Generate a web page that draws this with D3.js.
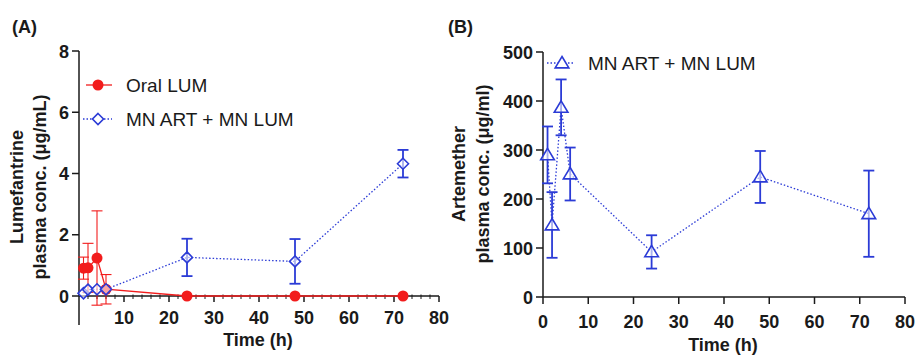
<!DOCTYPE html>
<html><head><meta charset="utf-8">
<script src="https://cdn.jsdelivr.net/npm/d3@7"></script>
<style>
body{margin:0;background:#fff;}
svg{font-family:"Liberation Sans",Arial,sans-serif;}
</style></head>
<body>
<svg id="c" width="915" height="357"></svg>
<script>
// ---- Data ----
const timesA = [1, 2, 4, 6, 24, 48, 72];
const oralLumMean = [0.91, 0.92, 1.24, 0.22, 0, 0, 0];
const oralLumSD   = [0.36, 0.80, 1.54, 0.48, 0, 0, 0];
const mnLumMean   = [0.09, 0.21, 0.22, 0.22, 1.26, 1.13, 4.32];
const mnLumSD     = [0.00, 0.00, 0.00, 0.00, 0.61, 0.73, 0.45];
const timesB = [1, 2, 4, 6, 24, 48, 72];
const mnArtMean = [290, 147, 387, 251, 92, 245, 170];
const mnArtSD   = [58, 67, 57, 54, 34, 53, 88];
const xTicksA = [10, 20, 30, 40, 50, 60, 70, 80];
const xTicksB = [0, 10, 20, 30, 40, 50, 60, 70, 80];
const yTicksA = [0, 2, 4, 6, 8];
const yTicksB = [0, 100, 200, 300, 400, 500];

const RED = "#f21c1c", BLUE = "#2b3bd6", AX = "#1a1a1a";
const TICKFS = 18;
const svg = d3.select("#c");

function drawErr(g, x, y, times, means, sds, color, sw, capW) {
  times.forEach((t, i) => {
    if (!sds[i]) return;
    const cx = x(t), top = y(means[i] + sds[i]), bot = y(means[i] - sds[i]);
    g.append("line").attr("x1", cx).attr("x2", cx).attr("y1", top).attr("y2", bot)
      .attr("stroke", color).attr("stroke-width", sw);
    [top, bot].forEach(yy => g.append("line").attr("x1", cx - capW / 2).attr("x2", cx + capW / 2)
      .attr("y1", yy).attr("y2", yy).attr("stroke", color).attr("stroke-width", sw));
  });
}

// ---------- Panel A ----------
const xA = d3.scaleLinear().domain([0, 80]).range([79, 439]);
const yA = d3.scaleLinear().domain([0, 8]).range([296, 51]);
const gA = svg.append("g");

gA.append("line").attr("x1", xA(0)).attr("x2", xA(0)).attr("y1", yA(8)).attr("y2", yA(-0.95))
  .attr("stroke", AX).attr("stroke-width", 1.5);
yTicksA.forEach(t => {
  gA.append("line").attr("x1", xA(0) - 7).attr("x2", xA(0)).attr("y1", yA(t)).attr("y2", yA(t))
    .attr("stroke", AX).attr("stroke-width", 1.5);
  gA.append("text").attr("x", xA(0) - 10).attr("y", yA(t) + 6.5).attr("text-anchor", "end")
    .attr("font-size", TICKFS).attr("font-weight", "bold").attr("fill", AX).text(t);
});
gA.append("line").attr("x1", xA(0)).attr("x2", xA(80)).attr("y1", yA(0)).attr("y2", yA(0))
  .attr("stroke", AX).attr("stroke-width", 1.5);
d3.range(2, 80, 2).forEach(t => {
  if (t % 10 === 0) return;
  gA.append("line").attr("x1", xA(t)).attr("x2", xA(t)).attr("y1", yA(0) - 1.5).attr("y2", yA(0) + 3)
    .attr("stroke", AX).attr("stroke-width", 1);
});
xTicksA.forEach(t => {
  gA.append("line").attr("x1", xA(t)).attr("x2", xA(t)).attr("y1", yA(0)).attr("y2", yA(0) + 6)
    .attr("stroke", AX).attr("stroke-width", 1.5);
  gA.append("text").attr("x", xA(t)).attr("y", 324).attr("text-anchor", "middle")
    .attr("font-size", TICKFS).attr("font-weight", "bold").attr("fill", AX).text(t);
});
gA.append("text").attr("x", 258).attr("y", 346).attr("text-anchor", "middle")
  .attr("font-size", 18).attr("font-weight", "bold").attr("fill", AX).text("Time (h)");
gA.append("text").attr("transform", "translate(23,187) rotate(-90)").attr("text-anchor", "middle")
  .attr("font-size", 18).attr("font-weight", "bold").attr("fill", AX).text("Lumefantrine");
gA.append("text").attr("transform", "translate(46,187) rotate(-90)").attr("text-anchor", "middle")
  .attr("font-size", 18).attr("font-weight", "bold").attr("fill", AX).text("plasma conc. (μg/mL)");
gA.append("text").attr("x", 12).attr("y", 33).attr("font-size", 18).attr("font-weight", "bold")
  .attr("fill", AX).text("(A)");

const lineA = d3.line().x(d => xA(d[0])).y(d => yA(d[1]));
gA.append("path").datum(timesA.map((t, i) => [t, mnLumMean[i]])).attr("d", lineA)
  .attr("fill", "none").attr("stroke", BLUE).attr("stroke-width", 1.3).attr("stroke-dasharray", "1.5,2");
drawErr(gA, xA, yA, timesA, mnLumMean, mnLumSD, BLUE, 1.8, 11);
gA.append("path").datum(timesA.map((t, i) => [t, oralLumMean[i]])).attr("d", lineA)
  .attr("fill", "none").attr("stroke", RED).attr("stroke-width", 1.3);
drawErr(gA, xA, yA, timesA, oralLumMean, oralLumSD, RED, 1.1, 11);
timesA.forEach((t, i) => {
  gA.append("circle").attr("cx", xA(t)).attr("cy", yA(oralLumMean[i])).attr("r", 5.5).attr("fill", RED);
});
const diamond = (cx, cy, s) => `M${cx},${cy - s}L${cx + s},${cy}L${cx},${cy + s}L${cx - s},${cy}Z`;
timesA.forEach((t, i) => {
  gA.append("path").attr("d", diamond(xA(t), yA(mnLumMean[i]), 5.5))
    .attr("fill", "#fff").attr("fill-opacity", 0.6).attr("stroke", BLUE).attr("stroke-width", 1.6);
});
// legend A
gA.append("line").attr("x1", 86).attr("x2", 112).attr("y1", 85).attr("y2", 85).attr("stroke", RED).attr("stroke-width", 1.3);
gA.append("circle").attr("cx", 98).attr("cy", 85).attr("r", 5.5).attr("fill", RED);
gA.append("text").attr("x", 126).attr("y", 92).attr("font-size", 19).attr("fill", AX).text("Oral LUM");
gA.append("line").attr("x1", 83).attr("x2", 112).attr("y1", 119).attr("y2", 119).attr("stroke", BLUE)
  .attr("stroke-width", 1.3).attr("stroke-dasharray", "1.5,2");
gA.append("path").attr("d", diamond(98, 119, 5.5)).attr("fill", "#fff").attr("stroke", BLUE).attr("stroke-width", 1.6);
gA.append("text").attr("x", 126).attr("y", 126).attr("font-size", 19).attr("fill", AX).text("MN ART + MN LUM");

// ---------- Panel B ----------
const xB = d3.scaleLinear().domain([0, 80]).range([543, 905]);
const yB = d3.scaleLinear().domain([0, 500]).range([297, 52]);
const gB = svg.append("g");
gB.append("line").attr("x1", xB(0)).attr("x2", xB(0)).attr("y1", yB(500)).attr("y2", yB(0))
  .attr("stroke", AX).attr("stroke-width", 1.5);
yTicksB.forEach(t => {
  gB.append("line").attr("x1", xB(0) - 7).attr("x2", xB(0)).attr("y1", yB(t)).attr("y2", yB(t))
    .attr("stroke", AX).attr("stroke-width", 1.5);
  gB.append("text").attr("x", xB(0) - 10).attr("y", yB(t) + 6.5).attr("text-anchor", "end")
    .attr("font-size", TICKFS).attr("font-weight", "bold").attr("fill", AX).text(t);
});
gB.append("line").attr("x1", xB(0)).attr("x2", xB(80)).attr("y1", yB(0)).attr("y2", yB(0))
  .attr("stroke", AX).attr("stroke-width", 1.5);
xTicksB.forEach(t => {
  gB.append("line").attr("x1", xB(t)).attr("x2", xB(t)).attr("y1", yB(0)).attr("y2", yB(0) + 7)
    .attr("stroke", AX).attr("stroke-width", 1.5);
  gB.append("text").attr("x", xB(t)).attr("y", 328).attr("text-anchor", "middle")
    .attr("font-size", TICKFS).attr("font-weight", "bold").attr("fill", AX).text(t);
});
gB.append("text").attr("x", 723).attr("y", 351).attr("text-anchor", "middle")
  .attr("font-size", 18).attr("font-weight", "bold").attr("fill", AX).text("Time (h)");
gB.append("text").attr("transform", "translate(465,174) rotate(-90)").attr("text-anchor", "middle")
  .attr("font-size", 18).attr("font-weight", "bold").attr("fill", AX).text("Artemether");
gB.append("text").attr("transform", "translate(489,174) rotate(-90)").attr("text-anchor", "middle")
  .attr("font-size", 18).attr("font-weight", "bold").attr("fill", AX).text("plasma conc. (μg/ml)");
gB.append("text").attr("x", 448).attr("y", 33).attr("font-size", 18).attr("font-weight", "bold")
  .attr("fill", AX).text("(B)");

const lineB = d3.line().x(d => xB(d[0])).y(d => yB(d[1]));
gB.append("path").datum(timesB.map((t, i) => [t, mnArtMean[i]])).attr("d", lineB)
  .attr("fill", "none").attr("stroke", BLUE).attr("stroke-width", 1.3).attr("stroke-dasharray", "1.5,2");
drawErr(gB, xB, yB, timesB, mnArtMean, mnArtSD, BLUE, 1.8, 11);
const tri = (cx, cy, s) => `M${cx},${cy - s}L${cx + s * 1.05},${cy + s * 0.75}L${cx - s * 1.05},${cy + s * 0.75}Z`;
timesB.forEach((t, i) => {
  gB.append("path").attr("d", tri(xB(t), yB(mnArtMean[i]), 6.5))
    .attr("fill", "#fff").attr("fill-opacity", 0.6).attr("stroke", BLUE).attr("stroke-width", 1.6);
});
// legend B
gB.append("line").attr("x1", 547).attr("x2", 575).attr("y1", 63).attr("y2", 63).attr("stroke", BLUE)
  .attr("stroke-width", 1.3).attr("stroke-dasharray", "1.5,2");
gB.append("path").attr("d", tri(562, 63, 6.5)).attr("fill", "#fff").attr("stroke", BLUE).attr("stroke-width", 1.6);
gB.append("text").attr("x", 588).attr("y", 70).attr("font-size", 19).attr("fill", AX).text("MN ART + MN LUM");
</script>
</body></html>
